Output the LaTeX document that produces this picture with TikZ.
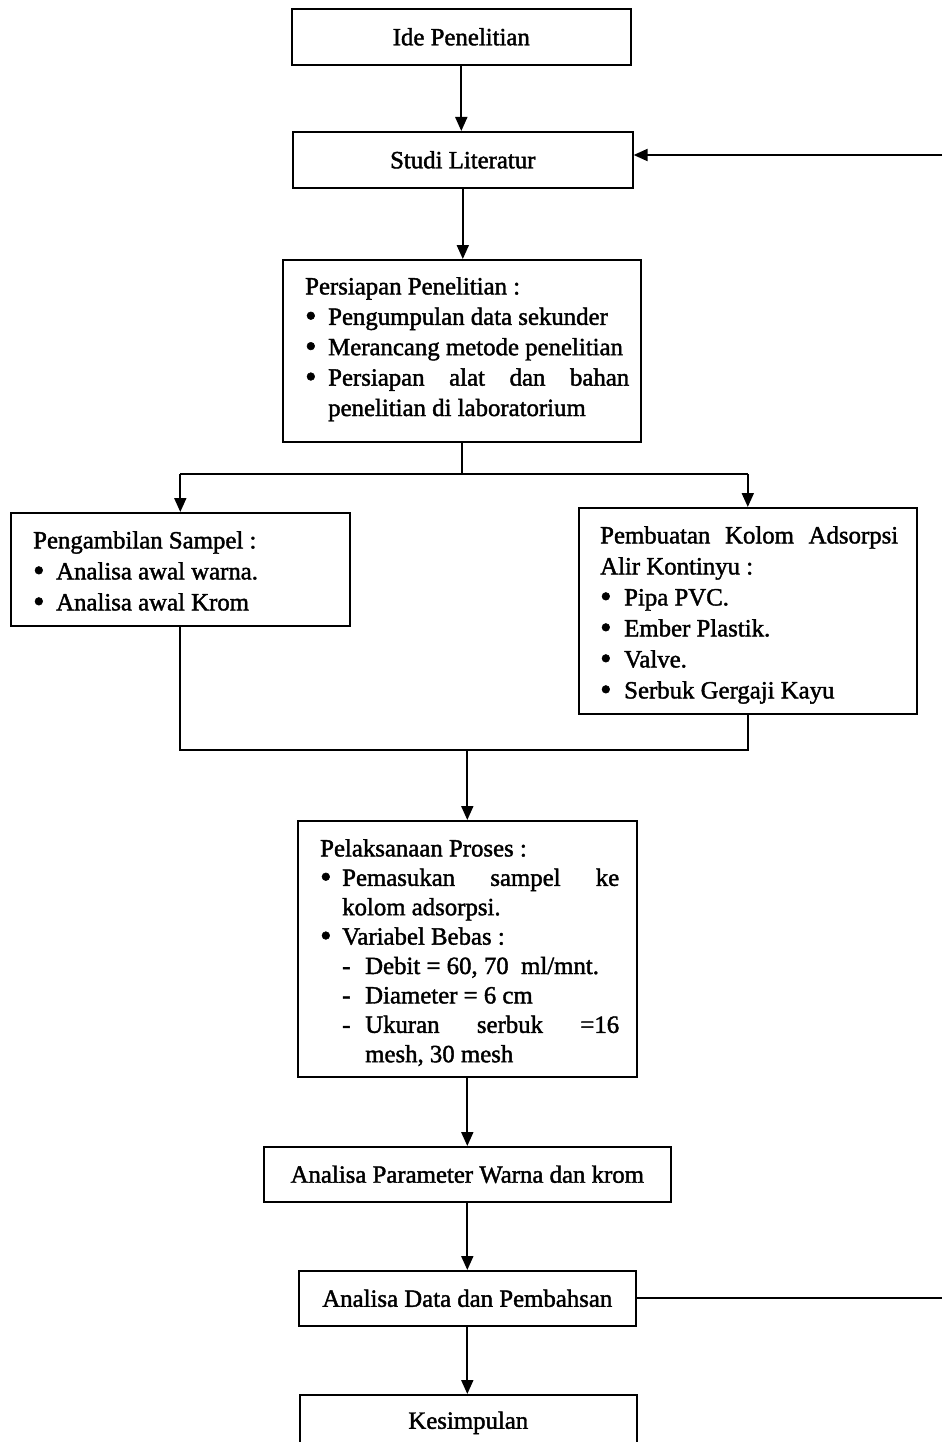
\documentclass[tikz,border=0pt]{standalone}
\usepackage{fontspec}
\setmainfont{Liberation Serif}[FakeBold=1.6]
\usetikzlibrary{arrows.meta}
\newcommand\fsz{\fontsize{24.8}{30.4}\selectfont}
\newcommand\fsza{\fontsize{24.8}{31}\selectfont}
\newcommand\fszb{\fontsize{24.8}{29.4}\selectfont}
\newcommand\dotb{\raisebox{-1.6pt}{\scalebox{1.3}{\textbullet}}}
\newcommand\bl{\makebox[23pt][l]{\dotb}}
\begin{document}
\begin{tikzpicture}[x=1pt,y=-1pt,
  box/.style={draw, line width=1.6pt, inner sep=0pt, anchor=north west, font=\fsz},
  txt/.style={inner sep=0pt, anchor=north west, align=left, font=\fsz},
  conn/.style={line width=1.9pt},
  arr/.style={conn, -{Triangle[length=14pt,width=12pt]}}]
\useasboundingbox (0,0) rectangle (942,1442);

% boxes
\node[box, minimum width=339pt, minimum height=56pt] (b1) at (291,8) {Ide Penelitian};
\node[box, minimum width=340pt, minimum height=56pt] (b2) at (292,131) {Studi Literatur};
\node[box, minimum width=358pt, minimum height=182pt] (b3) at (282,259) {};
\node[txt] (t3) at (305,277) {Persiapan Penelitian :\\
\bl Pengumpulan data sekunder\\
\bl Merancang metode penelitian\\
\bl \hbox to 301pt{Persiapan\hfill alat\hfill dan\hfill bahan}\\
\hspace*{23pt}penelitian di laboratorium};

\node[box, minimum width=339pt, minimum height=113pt] (b4) at (10,512) {};
\node[txt, font=\fsza] (t4) at (33,531) {Pengambilan Sampel :\\
\bl Analisa awal warna.\\
\bl Analisa awal Krom};

\node[box, minimum width=338pt, minimum height=206pt] (b5) at (578,507) {};
\node[txt, font=\fsza] (t5) at (600,526) {\hbox to 298pt{Pembuatan\hfill Kolom\hfill Adsorpsi}\\
Alir Kontinyu :\\
\makebox[24pt][l]{\dotb}Pipa PVC.\\
\makebox[24pt][l]{\dotb}Ember Plastik.\\
\makebox[24pt][l]{\dotb}Valve.\\
\makebox[24pt][l]{\dotb}Serbuk Gergaji Kayu};

\node[box, minimum width=339pt, minimum height=256pt] (b6) at (297,820) {};
\node[txt, font=\fszb] (t6) at (320,839) {Pelaksanaan Proses :\\
\makebox[22pt][l]{\dotb}\hbox to 277pt{Pemasukan\hfill sampel\hfill ke}\\
\hspace*{22pt}kolom adsorpsi.\\
\makebox[22pt][l]{\dotb}Variabel Bebas :\\
\hspace*{22pt}\makebox[23pt][l]{-}Debit = 60, 70\ \ ml/mnt.\\
\hspace*{22pt}\makebox[23pt][l]{-}Diameter = 6 cm\\
\hspace*{22pt}\makebox[23pt][l]{-}\hbox to 254pt{Ukuran\hfill serbuk\hfill =16}\\
\hspace*{45pt}mesh, 30 mesh};

\node[box, minimum width=407pt, minimum height=55pt] (b7) at (263,1146) {Analisa Parameter Warna dan krom};
\node[box, minimum width=337pt, minimum height=55pt] (b8) at (298,1270) {Analisa Data dan Pembahsan};
\node[box, minimum width=337pt, minimum height=56pt] (b9) at (299,1394) {Kesimpulan};

% connectors
\draw[arr] (b1.south) -- (b1.south |- b2.north);
\draw[arr] (b2.south) -- (b2.south |- b3.north);
\coordinate (sp) at (462,474);
\draw[conn] (b3.south) -- (b3.south |- sp);
\draw[conn] (b4.north |- sp) -- (b5.north |- sp);
\draw[arr] (b4.north |- sp) -- (b4.north);
\draw[arr] (b5.north |- sp) -- (b5.north);
\coordinate (jn) at (465,750);
\draw[conn] (b4.south) -- (b4.south |- jn) -- (b5.south |- jn) -- (b5.south);
\draw[arr] (b6.north |- jn) -- (b6.north);
\draw[arr] (b6.south) -- (b6.south |- b7.north);
\draw[arr] (b7.south) -- (b7.south |- b8.north);
\draw[arr] (b8.south) -- (b8.south |- b9.north);
% feedback lines to the right edge
\coordinate (fb1) at (942,1298);
\coordinate (fb2) at (942,155);
\draw[conn] (b8.east |- fb1) -- (fb1);
\draw[arr] (fb2) -- (b2.east |- fb2);
\end{tikzpicture}
\end{document}
